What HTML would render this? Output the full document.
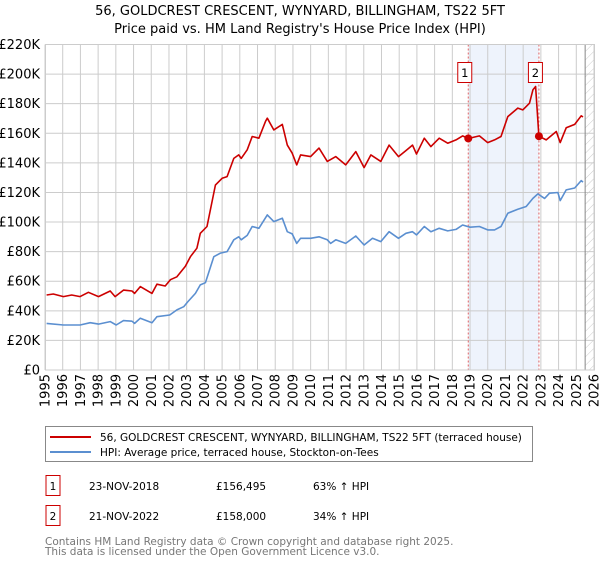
<!DOCTYPE html>
<html><head><meta charset="utf-8"><style>
body{margin:0;background:#fff;font-family:"Liberation Sans","DejaVu Sans",sans-serif;}
svg text{font-family:"DejaVu Sans","Liberation Sans",sans-serif;}
</style></head><body>
<svg id="chart" width="600" height="560" viewBox="0 0 600 560" xmlns="http://www.w3.org/2000/svg">
<defs><pattern id="hatch" width="6" height="6" patternUnits="userSpaceOnUse" patternTransform="rotate(45)"><line x1="0" y1="0" x2="0" y2="6" stroke="#ccc" stroke-width="1"/></pattern></defs>
<text x="300" y="15" text-anchor="middle" font-size="13" fill="#000">56, GOLDCREST CRESCENT, WYNYARD, BILLINGHAM, TS22 5FT</text>
<text x="300" y="33" text-anchor="middle" font-size="13" fill="#000">Price paid vs. HM Land Registry's House Price Index (HPI)</text>
<g id="plot"></g>
<g>
<rect x="45.5" y="426.5" width="487" height="35" fill="#fff" stroke="#888"/>
<line x1="50" y1="437" x2="91" y2="437" stroke="#cc0000" stroke-width="2"/>
<text x="100" y="441" font-size="10.5">56, GOLDCREST CRESCENT, WYNYARD, BILLINGHAM, TS22 5FT (terraced house)</text>
<line x1="50" y1="452" x2="91" y2="452" stroke="#5b8fd0" stroke-width="2"/>
<text x="100" y="456" font-size="10.5">HPI: Average price, terraced house, Stockton-on-Tees</text>
</g>
<g font-size="10.5">
<rect x="46" y="475.5" width="14" height="20" fill="#fff" stroke="#cc0000"/>
<text x="53" y="490" text-anchor="middle">1</text>
<text x="89" y="490">23-NOV-2018</text>
<text x="216" y="490">£156,495</text>
<text x="313" y="490">63% ↑ HPI</text>
<rect x="46" y="505.5" width="14" height="20" fill="#fff" stroke="#cc0000"/>
<text x="53" y="520" text-anchor="middle">2</text>
<text x="89" y="520">21-NOV-2022</text>
<text x="216" y="520">£158,000</text>
<text x="313" y="520">34% ↑ HPI</text>
</g>
<text x="45" y="545" font-size="10.5" fill="#777">Contains HM Land Registry data © Crown copyright and database right 2025.</text>
<text x="45" y="555" font-size="10.5" fill="#777">This data is licensed under the Open Government Licence v3.0.</text>
</svg>
<script>
const yTicks=[0,20,40,60,80,100,120,140,160,180,200,220];
const yTickLabels=["£0","£20K","£40K","£60K","£80K","£100K","£120K","£140K","£160K","£180K","£200K","£220K"];
const xYears=[1995,1996,1997,1998,1999,2000,2001,2002,2003,2004,2005,2006,2007,2008,2009,2010,2011,2012,2013,2014,2015,2016,2017,2018,2019,2020,2021,2022,2023,2024,2025,2026];
const hpiYears=[1995.09,1996.04,1996.98,1997.55,1998.02,1998.68,1999.02,1999.43,1999.91,2000.06,2000.38,2001.04,2001.32,2002.04,2002.45,2002.83,2003.06,2003.49,2003.77,2004.06,2004.53,2004.91,2005.28,2005.66,2005.94,2006.08,2006.42,2006.7,2007.08,2007.55,2007.92,2008.4,2008.68,2008.96,2009.21,2009.43,2010,2010.47,2010.94,2011.13,2011.42,2011.98,2012.55,2013.02,2013.49,2013.96,2014.43,2014.96,2015.38,2015.75,2015.98,2016.42,2016.79,2017.26,2017.74,2018.21,2018.58,2019,2019.53,2020,2020.38,2020.75,2021.13,2021.7,2022.17,2022.55,2022.83,2023.21,2023.49,2023.96,2024.09,2024.43,2024.91,2025.28,2025.38];
const hpiValues=[31.5,30.4,30.4,32,31,32.7,30.4,33.4,33,31.5,35,32,36,37.2,40.6,42.8,46,51.8,57.5,59,76.6,79,80,88,90,88,91,97,95.8,104.8,100.3,102.6,93.5,92,85.6,89,89,90,88,85.6,88,85.6,90.6,84.5,89,86.8,93.5,89,92.4,93.5,91.3,97,93.5,95.8,94,95,98,96.5,97,94.7,94.7,97,106,108.6,110.5,116,119,116,119.5,120,114.5,121.7,123,128,127];
const priceYears=[1995.09,1995.47,1996.04,1996.51,1996.98,1997.45,1998.02,1998.68,1998.96,1999.43,1999.91,2000.06,2000.38,2001.04,2001.32,2001.79,2002.08,2002.45,2002.92,2003.21,2003.58,2003.77,2004.15,2004.62,2005,2005.28,2005.66,2005.94,2006.08,2006.42,2006.7,2007.08,2007.45,2007.55,2007.92,2008.4,2008.68,2008.96,2009.21,2009.43,2010,2010.47,2010.94,2011.42,2011.98,2012.55,2013.02,2013.4,2013.96,2014.43,2014.96,2015.38,2015.75,2015.98,2016.42,2016.79,2017.26,2017.74,2018.21,2018.58,2018.9,2019.53,2020,2020.38,2020.75,2021.13,2021.7,2021.98,2022.36,2022.55,2022.7,2022.89,2023.3,2023.87,2024.09,2024.43,2024.91,2025.28,2025.38];
const priceValues=[50.7,51.4,49.6,50.7,49.6,52.5,49.6,53.4,49.6,54,53.4,51.8,56.4,51.8,58,56.8,61,63,70,76.6,82.3,92.4,97,125,129.6,130.7,143,145.4,143,148.8,157.8,156.7,168,170.2,162.3,166,152,146.5,138.6,145.4,144.2,150,141,144.2,138.6,147.6,136.8,145.4,141,152,144.2,148.3,152,146,156.7,151,156.7,153.3,155.5,158.2,156.5,158.2,153.7,155.5,157.8,171.3,177,175.8,180.3,189.3,191.6,158,155.5,161.2,153.7,163.7,166,171.8,171];
const saleYears=[2018.9,2022.89];
const saleValues=[156.495,158];
const saleLabels=["1","2"];

const L=45,R=594,T=44.5,B=370;
const x=y=>L+(y-1995)*(R-L)/31;
const yS=v=>B-v*(B-T)/220;
const NS="http://www.w3.org/2000/svg";
const g=document.getElementById('plot');
function mk(tag,attrs,parent){const e=document.createElementNS(NS,tag);for(const k in attrs)e.setAttribute(k,attrs[k]);(parent||g).appendChild(e);return e;}

let e=mk('rect',{x:x(saleYears[0]),y:T,width:x(saleYears[1])-x(saleYears[0]),height:B-T,fill:'#eef3fc'});


e=mk('rect',{x:x(2025.5),y:T,width:R-x(2025.5),height:B-T,fill:'url(#hatch)'});



yTicks.forEach((t,i)=>{
  let l=mk('line',{x1:L,x2:R,y1:yS(t),y2:yS(t),stroke:'#ccc','stroke-width':1});
  
  
  let tx=mk('text',{x:L-5,y:yS(t)+4.5,'text-anchor':'end','font-size':'13',fill:'#000'});
  tx.textContent=yTickLabels[i];
  
  
});
xYears.forEach(yr=>{
  let l=mk('line',{x1:x(yr),x2:x(yr),y1:T,y2:B,stroke:'#ccc','stroke-width':1});
  
  
  let tx=mk('text',{x:0,y:0,'text-anchor':'end','font-size':'13',fill:'#000',transform:`translate(${x(yr)+4.5},374) rotate(-90)`});
  tx.textContent=yr;
  
  
});
e=mk('line',{x1:x(2025.5),x2:x(2025.5),y1:T,y2:B,stroke:'#888','stroke-width':1});



saleYears.forEach((sy,i)=>{
  let l=mk('line',{x1:x(sy),x2:x(sy),y1:T,y2:B,stroke:'#e06060','stroke-width':1,'stroke-dasharray':'2,2'});
  
  
});

function path(xs,vs,color,name){
  const d=xs.map((yy,i)=>(i?'L':'M')+x(yy).toFixed(1)+','+yS(vs[i]).toFixed(1)).join('');
  const p=mk('path',{d:d,fill:'none',stroke:color,'stroke-width':1.6,'stroke-linejoin':'round'});
  
  
}
path(hpiYears,hpiValues,'#5b8fd0','hpi-line');
path(priceYears,priceValues,'#cc0000','price-paid-line');

saleYears.forEach((sy,i)=>{
  let c=mk('circle',{cx:x(sy),cy:yS(saleValues[i]),r:4,fill:'#cc0000'});
  
  
  let b=mk('rect',{x:x(sy)-10.5,y:62.5,width:14,height:20,fill:'#fff',stroke:'#cc0000'});
  
  
  let t=mk('text',{x:x(sy)-3.5,y:77,'text-anchor':'middle','font-size':'11.5'});
  t.textContent=saleLabels[i];
  
  
});
e=mk('rect',{x:L+0.5,y:T,width:R-L,height:B-T,fill:'none',stroke:'#ccc'});


</script>
</body></html>
